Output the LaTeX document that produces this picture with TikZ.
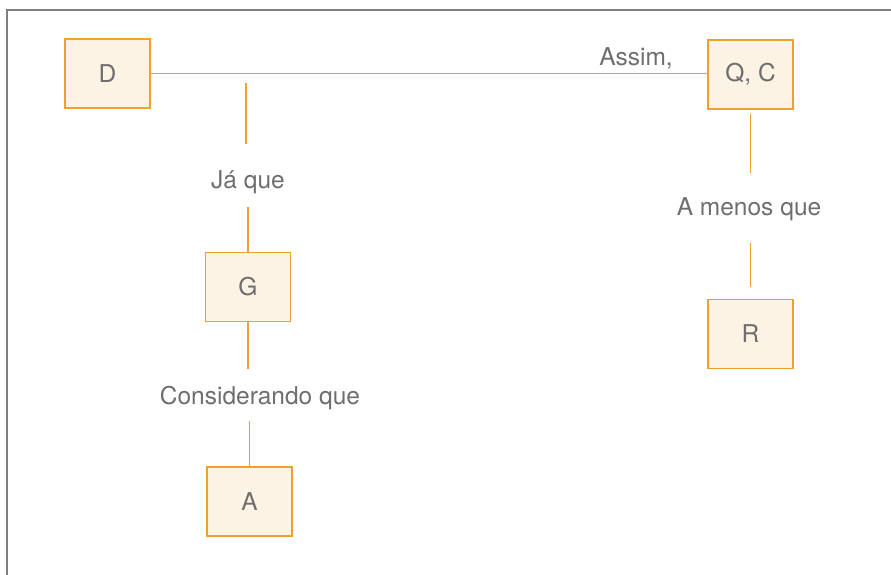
\documentclass[tikz,border=0pt]{standalone}
\usepackage{fontspec}
\setmainfont{TeX Gyre Heros}
\definecolor{boxline}{HTML}{F0A030}
\definecolor{boxfill}{HTML}{FDF3E5}
\definecolor{txtgray}{HTML}{6E6E6E}
\definecolor{framegray}{HTML}{808080}
\begin{document}
\begin{tikzpicture}
					[x=1pt,y=-1pt,
					every node/.style={text=txtgray,font=\fontsize{24.5}{29}\selectfont},
					box/.style={draw=boxline,fill=boxfill,line width=1.5pt,minimum width=85pt,minimum height=69pt,inner sep=0pt},
					lbl/.style={inner sep=0pt,text height=17pt,text depth=5pt,anchor=base},
					link/.style={draw=boxline,line width=1.4pt},]
					\useasboundingbox (0,0) rectangle (891,575);
					\draw[framegray,line width=1.5pt] (900,10) -- (7,10) -- (7,585);
					% boxes
					\node[box] (D) at (107.5,73.5) {D};
					\node[box] (QC) at (750.5,74.5) {Q, C};
					\node[box] (G) at (248,287) {G};
					\node[box] (R) at (750.5,334) {R};
					\node[box] (A) at (249.5,501.5) {A};
					% labels
					\node[lbl] (assim) at (636,66) {Assim,};
					\node[lbl] (jaque) at (248,188) {Já que};
					\node[lbl] (cons) at (260,404) {Considerando que};
					\node[lbl] (menos) at (749,215) {A menos que};
					\coordinate (hang) at (246,83);
					% links
					\draw[link] (D.east) -- (D.east -| QC.west);
					\draw[link,shorten >=27pt] (hang) -- (hang |- jaque.north);
					\draw[link,shorten <=14pt] (G.north |- jaque.south) -- (G.north);
					\draw[link,shorten >=18pt] (G.south) -- (G.south |- cons.north);
					\draw[link,shorten <=12pt] (A.north |- cons.south) -- (A.north);
					\draw[link,shorten <=4pt,shorten >=25pt] (QC.south) -- (QC.south |- menos.north);
					\draw[link,shorten <=23pt,shorten >=12pt] (R.north |- menos.south) -- (R.north);
				\end{tikzpicture}
\end{document}
